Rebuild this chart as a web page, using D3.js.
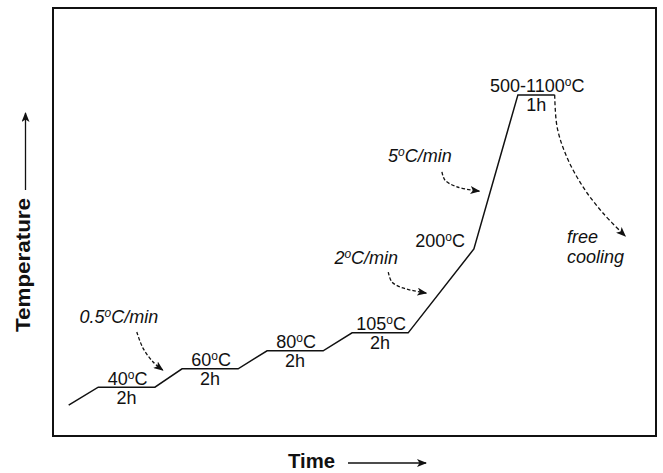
<!DOCTYPE html>
<html><head><meta charset="utf-8">
<script src="https://cdn.jsdelivr.net/npm/d3@7"></script>
<style>
html,body{margin:0;padding:0;background:#fff;}
text{font-family:"Liberation Sans",Arial,Helvetica,sans-serif;fill:#111;}
</style></head>
<body>
<svg id="c" width="663" height="473"></svg>
<script>
// Heating profile (schematic units: time 0-100, temperature 0-100)
const profileTime = [2.6, 7.5, 16.9, 21.4, 30.7, 35.5, 44.8, 49.6, 58.9, 69.8, 77.1, 83.2];
const profileTemp = [7.2, 11.4, 11.4, 15.7, 15.7, 19.9, 19.9, 24.1, 24.1, 43.7, 79.7, 79.7];

// Dwell plateaus (index of start/end point in the profile)
const plateauStart = [1, 3, 5, 7, 10];
const plateauEnd   = [2, 4, 6, 8, 11];
const plateauTempLabels = ["40", "60", "80", "105", "500-1100"];
const plateauDwell      = ["2h", "2h", "2h", "2h", "1h"];

// Intermediate point label
const kneeIndex = 9;
const kneeLabel = "200";

// Free cooling curve
const coolTime = [83.2, 83.6, 85.2, 87.9, 91.2, 94.9];
const coolTemp = [79.7, 72.2, 65.2, 58.2, 52.1, 46.7];

// Heating-rate annotation arrows
const rateLabels = ["0.5", "2", "5"];
const rateArrowTime = [
  [13.9, 14.9, 16.6, 18.2],
  [55.6, 56.2, 58.0, 61.9],
  [64.5, 65.0, 67.0, 70.7]
];
const rateArrowTemp = [
  [24.3, 20.6, 17.3, 15.4],
  [38.3, 36.0, 34.6, 33.4],
  [61.7, 59.8, 58.2, 57.2]
];

const svg = d3.select("#c");
const x = d3.scaleLinear().domain([0, 100]).range([53, 656]);
const y = d3.scaleLinear().domain([0, 100]).range([436, 8]);
const FS = 18;

const defs = svg.append("defs");
defs.append("marker").attr("id", "ah")
  .attr("viewBox", "0 0 10 8").attr("refX", 9).attr("refY", 4)
  .attr("markerWidth", 10).attr("markerHeight", 8)
  .attr("markerUnits", "userSpaceOnUse").attr("orient", "auto")
  .append("path").attr("d", "M0,0 L10,4 L0,8 L2.5,4 Z").attr("fill", "#111");

// frame
svg.append("rect")
  .attr("x", x(0)).attr("y", y(100))
  .attr("width", x(100) - x(0)).attr("height", y(0) - y(100))
  .attr("fill", "none").attr("stroke", "#111").attr("stroke-width", 2);

// profile line
const pts = profileTime.map((t, i) => [t, profileTemp[i]]);
const line = d3.line().x(d => x(d[0])).y(d => y(d[1]));
svg.append("path").attr("d", line(pts))
  .attr("fill", "none").attr("stroke", "#111").attr("stroke-width", 1.5)
  .attr("stroke-linejoin", "miter");

// cooling dashed curve
const coolPts = coolTime.map((t, i) => [t, coolTemp[i]]);
const curve = d3.line().x(d => x(d[0])).y(d => y(d[1])).curve(d3.curveCatmullRom);
svg.append("path").attr("d", curve(coolPts))
  .attr("fill", "none").attr("stroke", "#111").attr("stroke-width", 1.3)
  .attr("stroke-dasharray", "4,2.5").attr("marker-end", "url(#ah)");

// helper: temperature label with superscript o
function tempText(g, value, px, py, anchor, italic, suffix) {
  const t = g.append("text").attr("x", px).attr("y", py)
    .attr("text-anchor", anchor).attr("font-size", FS);
  if (italic) t.attr("font-style", "italic");
  t.append("tspan").text(value);
  t.append("tspan").attr("font-size", 12).attr("dy", -6).text("o");
  t.append("tspan").attr("dy", 6).text("C" + (suffix || ""));
  return t;
}

const g = svg.append("g");
plateauStart.forEach((s, i) => {
  const e = plateauEnd[i];
  const mx = (x(profileTime[s]) + x(profileTime[e])) / 2;
  const py = y(profileTemp[s]);
  tempText(g, plateauTempLabels[i], mx + 1, py - 2.5, "middle", false);
  g.append("text").attr("x", mx).attr("y", py + 16.5)
    .attr("text-anchor", "middle").attr("font-size", FS).text(plateauDwell[i]);
});

// 200 °C label
tempText(g, kneeLabel, x(profileTime[kneeIndex]) - 9, y(profileTemp[kneeIndex]) - 2, "end", false);

// rate arrows + labels
const rateDx = [-18, -22, -22];
const rateDy = [-9, -8, -10];
rateLabels.forEach((r, i) => {
  const ap = rateArrowTime[i].map((t, j) => [t, rateArrowTemp[i][j]]);
  svg.append("path").attr("d", curve(ap))
    .attr("fill", "none").attr("stroke", "#111").attr("stroke-width", 1.3)
    .attr("stroke-dasharray", "3.5,2").attr("marker-end", "url(#ah)");
  tempText(g, r, x(ap[0][0]) + rateDx[i], y(ap[0][1]) + rateDy[i], "middle", true, "/min");
});

// free cooling label
const fc = g.append("text").attr("font-size", FS).attr("font-style", "italic");
fc.append("tspan").attr("x", 567).attr("y", 243).text("free");
fc.append("tspan").attr("x", 567).attr("y", 263).text("cooling");

// axis titles
svg.append("text").attr("x", 288).attr("y", 468).attr("font-size", 20)
  .attr("font-weight", "bold").attr("textLength", 47).attr("lengthAdjust", "spacingAndGlyphs")
  .text("Time");
svg.append("line").attr("x1", 348).attr("y1", 463).attr("x2", 426).attr("y2", 463)
  .attr("stroke", "#111").attr("stroke-width", 1.3).attr("marker-end", "url(#ah)");

svg.append("text").attr("transform", "translate(30,332) rotate(-90)")
  .attr("font-size", 20).attr("font-weight", "bold")
  .attr("textLength", 134).attr("lengthAdjust", "spacingAndGlyphs")
  .text("Temperature");
svg.append("line").attr("x1", 25.5).attr("y1", 190).attr("x2", 25.5).attr("y2", 113)
  .attr("stroke", "#111").attr("stroke-width", 1.3).attr("marker-end", "url(#ah)");
</script>
</body></html>
